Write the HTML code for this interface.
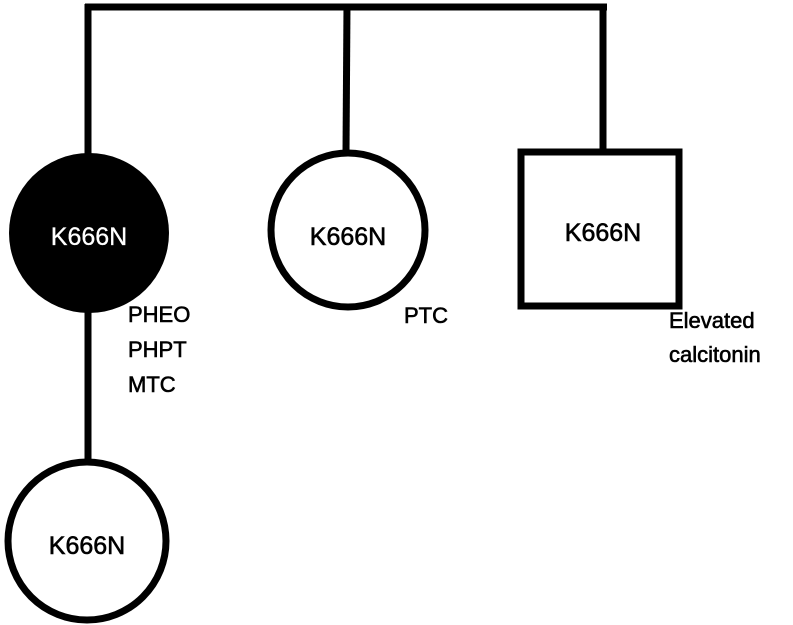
<!DOCTYPE html>
<html><head><meta charset="utf-8"><style>
html,body{margin:0;padding:0;background:#fff;width:793px;height:625px;overflow:hidden}
svg text{font-family:"Liberation Sans",sans-serif}
</style></head><body>
<svg width="793" height="625" viewBox="0 0 793 625" xmlns="http://www.w3.org/2000/svg">
<g stroke="#000" stroke-width="7" fill="none">
<line x1="85" y1="7" x2="607" y2="7"/>
<line x1="88" y1="4" x2="88" y2="155"/>
<line x1="347" y1="4" x2="346" y2="152"/>
<line x1="603" y1="4" x2="603" y2="150"/>
<line x1="88" y1="310" x2="88" y2="460"/>
<rect x="521" y="152" width="158" height="154"/>
<circle cx="348" cy="230" r="77" fill="#fff"/>
<circle cx="87" cy="541" r="79" fill="#fff"/>
</g>
<ellipse cx="89" cy="233" rx="80" ry="80" fill="#000"/>
<g font-size="25" text-anchor="middle" stroke-width="0.6">
<text x="89" y="245" fill="#fff" stroke="#fff" stroke-width="0.3">K666N</text>
<text x="348" y="245" fill="#000" stroke="#000">K666N</text>
<text x="603" y="241" fill="#000" stroke="#000">K666N</text>
<text x="87" y="554" fill="#000" stroke="#000">K666N</text>
</g>
<g font-size="22" fill="#000" stroke="#000" stroke-width="0.6">
<text x="128" y="322">PHEO</text>
<text x="128" y="357">PHPT</text>
<text x="128" y="392">MTC</text>
<text x="404" y="323">PTC</text>
<text x="669" y="328">Elevated</text>
<text x="669" y="362">calcitonin</text>
</g>
</svg>
</body></html>
